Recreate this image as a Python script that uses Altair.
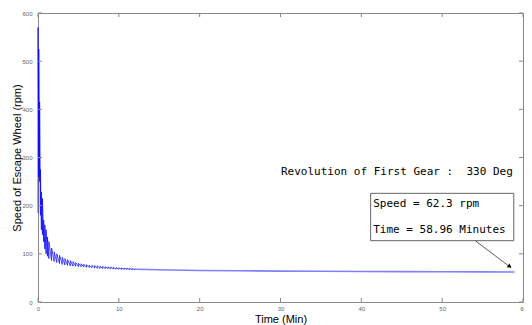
import altair as alt
import pandas as pd

# ---- data ----
# early sawtooth spikes: time of each spike (min), speed just before the rise, speed at the top
spike_t = [0.00, 0.10, 0.20, 0.30, 0.42, 0.55, 0.70, 0.85, 1.00, 1.17, 1.35,
           1.68, 2.00, 2.33, 2.66, 3.00, 3.33, 3.66, 4.00, 4.33, 4.66, 5.00,
           5.33, 5.66, 6.00, 6.33, 6.66, 7.00, 7.33, 7.66, 8.00, 8.33, 8.66,
           9.00, 9.33, 9.66, 10.00, 10.33, 10.66, 11.00, 11.33, 11.66, 12.00]
spike_lo = [185, 260, 250, 180, 150, 140, 125, 110, 100, 95, 90,
            86, 84, 82, 80, 78, 77, 76, 75, 74.5, 74, 73.5,
            73, 72.5, 72, 71.5, 71, 70.5, 70, 69.8, 69.5, 69.2, 69,
            68.8, 68.5, 68.2, 68, 67.8, 67.6, 67.4, 67.2, 67, 66.8]
spike_hi = [570, 525, 415, 275, 228, 215, 170, 160, 150, 135, 125,
            112, 104, 100, 97, 93, 90, 88, 86, 84, 82, 80.5,
            79.5, 78.5, 77.5, 76.5, 76, 75.5, 75, 74.5, 74, 73.5, 73,
            72.5, 72, 71.5, 71, 70.8, 70.5, 70.2, 70, 69.7, 69.5]

# later, nearly flat part (dense small ripples drawn as a band-like line)
tail_t = [12, 15, 20, 25, 30, 35, 40, 45, 50, 55, 58.96]
tail_v = [68, 67, 65.5, 64.8, 64.2, 63.8, 63.4, 63.1, 62.8, 62.5, 62.3]

x_ticks = [0, 10, 20, 30, 40, 50, 60]
y_ticks = [0, 100, 200, 300, 400, 500, 600]

NB = "\u00a0"
title_text = "Revolution of First Gear :" + NB + NB + "330 Deg"
box_lines = ["Speed = 62.3 rpm", "Time = 58.96 Minutes"]

# ---- tables ----
rows = []
for t, lo, hi in zip(spike_t, spike_lo, spike_hi):
    rows.append({"t": t, "v": lo})
    rows.append({"t": t, "v": hi})
spikes = pd.DataFrame(rows)
spikes["i"] = range(len(spikes))
tail = pd.DataFrame({"t": tail_t, "v": tail_v})
xt = pd.DataFrame({"t": x_ticks})
yt = pd.DataFrame({"v": y_ticks})

W, H = 485, 289
FRAME = "#888888"
xs = alt.Scale(domain=[0, 60], nice=False)
ys = alt.Scale(domain=[0, 600], nice=False)

AX = alt.Axis(
    title="Time (Min)", values=x_ticks, ticks=False, domain=False, grid=False,
    labelFont="Liberation Sans", labelFontSize=6, labelColor="#666666",
    labelPadding=3, labelFlush=False,
    titleFont="Liberation Sans", titleFontSize=11, titleFontWeight="normal",
    titleColor="#000000", titleX=W / 2, titleY=20, titleAlign="center",
    titleBaseline="alphabetic")
AY = alt.Axis(
    title="Speed of Escape Wheel (rpm)", values=y_ticks, ticks=False, domain=False,
    grid=False, labelFont="Liberation Sans", labelFontSize=6, labelColor="#666666",
    labelPadding=6,
    titleFont="Liberation Sans", titleFontSize=11, titleFontWeight="normal",
    titleColor="#000000", titleX=-21, titleY=H / 2,
    titleAlign="center", titleBaseline="middle")


def X(f="t"):
    return alt.X(f + ":Q", scale=xs, axis=AX)


def Y(f="v"):
    return alt.Y(f + ":Q", scale=ys, axis=AY)


main = alt.Chart(spikes).mark_line(color="#0000ff", strokeWidth=0.7).encode(
    x=X(), y=Y(), order="i:Q")

tail_line = alt.Chart(tail).mark_line(color="#8080ff", strokeWidth=1.6).encode(
    x=X(), y=Y())

# annotation elements (data coordinates)
ann_box = pd.DataFrame({"t": [41.15], "t2": [58.86], "v": [127.3], "v2": [225.6]})
box = alt.Chart(ann_box).mark_rect(fill="white", stroke="#666666", strokeWidth=1).encode(
    x=X(), x2="t2:Q", y=Y(), y2="v2:Q")

ann_arrow = pd.DataFrame({"t": [54.1], "v": [127.3], "t2": [58.5], "v2": [71.5]})
arrow = alt.Chart(ann_arrow).mark_rule(color="#333333", strokeWidth=0.8).encode(
    x=X(), x2="t2:Q", y=Y(), y2="v2:Q")

ann_head = pd.DataFrame({"t": [58.3], "v": [74.5]})
head = alt.Chart(ann_head).mark_point(shape="triangle", filled=True, color="#000000",
                                       size=22, angle=126, opacity=1).encode(
    x=X(), y=Y())

ann_text = pd.DataFrame({
    "t": [30.06, 41.47, 41.47],
    "v": [263.6, 196.7, 142.7],
    "label": [title_text] + box_lines,
})
texts = alt.Chart(ann_text).mark_text(
    font="DejaVu Sans Mono", fontSize=11, align="left", baseline="alphabetic",
    color="#000000").encode(x=X(), y=Y(), text="label:N")

# inward ticks on all four sides
tb = alt.Chart(xt).mark_rule(color=FRAME, strokeWidth=1).encode(
    x=X(), y=alt.value(H), y2=alt.value(H - 4))
tt = alt.Chart(xt).mark_rule(color=FRAME, strokeWidth=1).encode(
    x=X(), y=alt.value(0), y2=alt.value(4))
tl = alt.Chart(yt).mark_rule(color=FRAME, strokeWidth=1).encode(
    y=Y(), x=alt.value(0), x2=alt.value(4))
tr = alt.Chart(yt).mark_rule(color=FRAME, strokeWidth=1).encode(
    y=Y(), x=alt.value(W), x2=alt.value(W - 4))

chart = alt.layer(main, tail_line, box, arrow, head, texts, tb, tt, tl, tr).properties(
    width=W, height=H,
    autosize=alt.AutoSizeParams(type="none"),
    padding={"left": 30, "top": 5, "right": 1, "bottom": 23},
).configure_view(stroke=FRAME, strokeWidth=1)

chart.save("out.html", embed_options={"renderer": "svg", "actions": False})
